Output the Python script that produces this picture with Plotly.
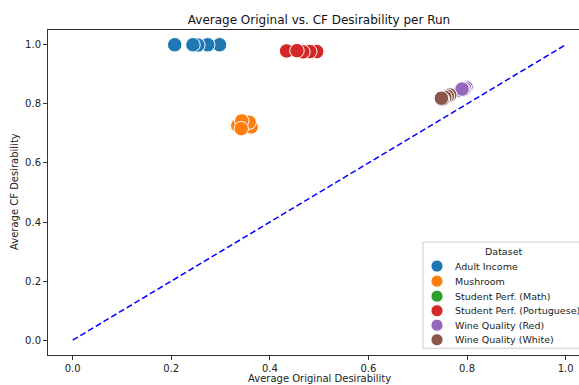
import plotly.graph_objects as go

datasets = ["Adult Income", "Mushroom", "Student Perf. (Math)",
            "Student Perf. (Portuguese)", "Wine Quality (Red)", "Wine Quality (White)"]
colors = ["#1f77b4", "#ff7f0e", "#2ca02c", "#d62728", "#9467bd", "#8c564b"]

adult_x = [0.207, 0.298, 0.274, 0.254, 0.244]
adult_y = [1.0, 1.0, 1.0, 0.999, 1.0]
mush_x = [0.362, 0.358, 0.335, 0.343, 0.342]
mush_y = [0.722, 0.738, 0.726, 0.742, 0.716]
math_x = []
math_y = []
port_x = [0.434, 0.495, 0.481, 0.467, 0.455]
port_y = [0.979, 0.977, 0.977, 0.976, 0.980]
red_x = [0.787, 0.798, 0.795, 0.792, 0.790]
red_y = [0.845, 0.856, 0.852, 0.848, 0.850]
white_x = [0.765, 0.760, 0.755, 0.750, 0.748]
white_y = [0.830, 0.826, 0.822, 0.816, 0.819]

xs = [adult_x, mush_x, math_x, port_x, red_x, white_x]
ys = [adult_y, mush_y, math_y, port_y, red_y, white_y]

diag = [0.0, 1.0]
ticks = [0, 0.2, 0.4, 0.6, 0.8, 1.0]
tick_labels = ["0.0", "0.2", "0.4", "0.6", "0.8", "1.0"]

W, H = 579, 385
L, R, T, B = 48, 579, 30.25, 354.75


def px(xp):
    return (xp - L) / (R - L)


def py(yp):
    return (B - yp) / (B - T)


fig = go.Figure()
for name, c, x, y in zip(datasets, colors, xs, ys):
    if not x:
        continue
    fig.add_trace(go.Scatter(
        x=x, y=y, mode="markers", name=name,
        marker=dict(size=14.5, color=c, line=dict(color="white", width=1)),
    ))

fig.add_trace(go.Scatter(x=diag, y=diag, mode="lines",
                         line=dict(color="#0000ff", width=1.5, dash="6px,3px")))

font = "DejaVu Sans, sans-serif"
fig.update_layout(
    width=W, height=H, showlegend=False,
    margin=dict(l=L, r=W - R, t=T, b=H - B, autoexpand=False),
    plot_bgcolor="white", paper_bgcolor="white",
    font=dict(family=font, size=10, color="#222"),
    title=dict(text="Average Original vs. CF Desirability per Run", x=319 / W, xanchor="center",
               y=1 - 20 / H, yanchor="middle", font=dict(size=12, color="#111")),
    xaxis=dict(range=[-0.05, -0.05 + (R - L) / 493], tickvals=ticks, ticktext=tick_labels,
               showgrid=False, zeroline=False, showline=True, linecolor="#333", linewidth=1,
               mirror=True, ticks="outside", ticklen=4, tickcolor="#333"),
    yaxis=dict(range=[-0.05, 1.05], tickvals=ticks, ticktext=tick_labels,
               showgrid=False, zeroline=False, showline=True, linecolor="#333", linewidth=1,
               ticks="outside", ticklen=4, tickcolor="#333"),
)

# axis titles
fig.add_annotation(text="Average Original Desirability", xref="paper", yref="paper",
                   x=px(319), y=py(378), yanchor="middle", xanchor="center",
                   showarrow=False, font=dict(size=10))
fig.add_annotation(text="Average CF Desirability", xref="paper", yref="paper",
                   x=px(15), y=py(192), yanchor="middle", xanchor="center", textangle=-90,
                   showarrow=False, font=dict(size=10))

# legend (drawn as shapes and texts)
box_l, box_t, box_r, box_b = 423, 242, 583, 348
fig.add_shape(type="rect", xref="paper", yref="paper",
              x0=px(box_l), x1=px(box_r), y0=py(box_b), y1=py(box_t),
              line=dict(color="#cccccc", width=1), fillcolor="rgba(255,255,255,0.85)",
              layer="above")
fig.add_annotation(text="Dataset", xref="paper", yref="paper", x=px(503), y=py(251.7),
                   xanchor="center", yanchor="middle", showarrow=False, font=dict(size=9.5))
row_y = [266, 281, 296, 310.5, 325, 339.5]
for name, c, ry in zip(datasets, colors, row_y):
    fig.add_shape(type="circle", xref="paper", yref="paper", xsizemode="pixel", ysizemode="pixel",
                  xanchor=px(437), yanchor=py(ry), x0=-6, x1=6, y0=-6, y1=6,
                  fillcolor=c, line=dict(color="white", width=0.8), layer="above")
    fig.add_annotation(text=name, xref="paper", yref="paper", x=px(453), y=py(ry),
                       xanchor="left", yanchor="middle", showarrow=False, font=dict(size=9.5))

fig.write_html("out.html", config={"displayModeBar": False},
               post_script="document.body.style.margin='0';document.body.style.overflow='hidden';")
